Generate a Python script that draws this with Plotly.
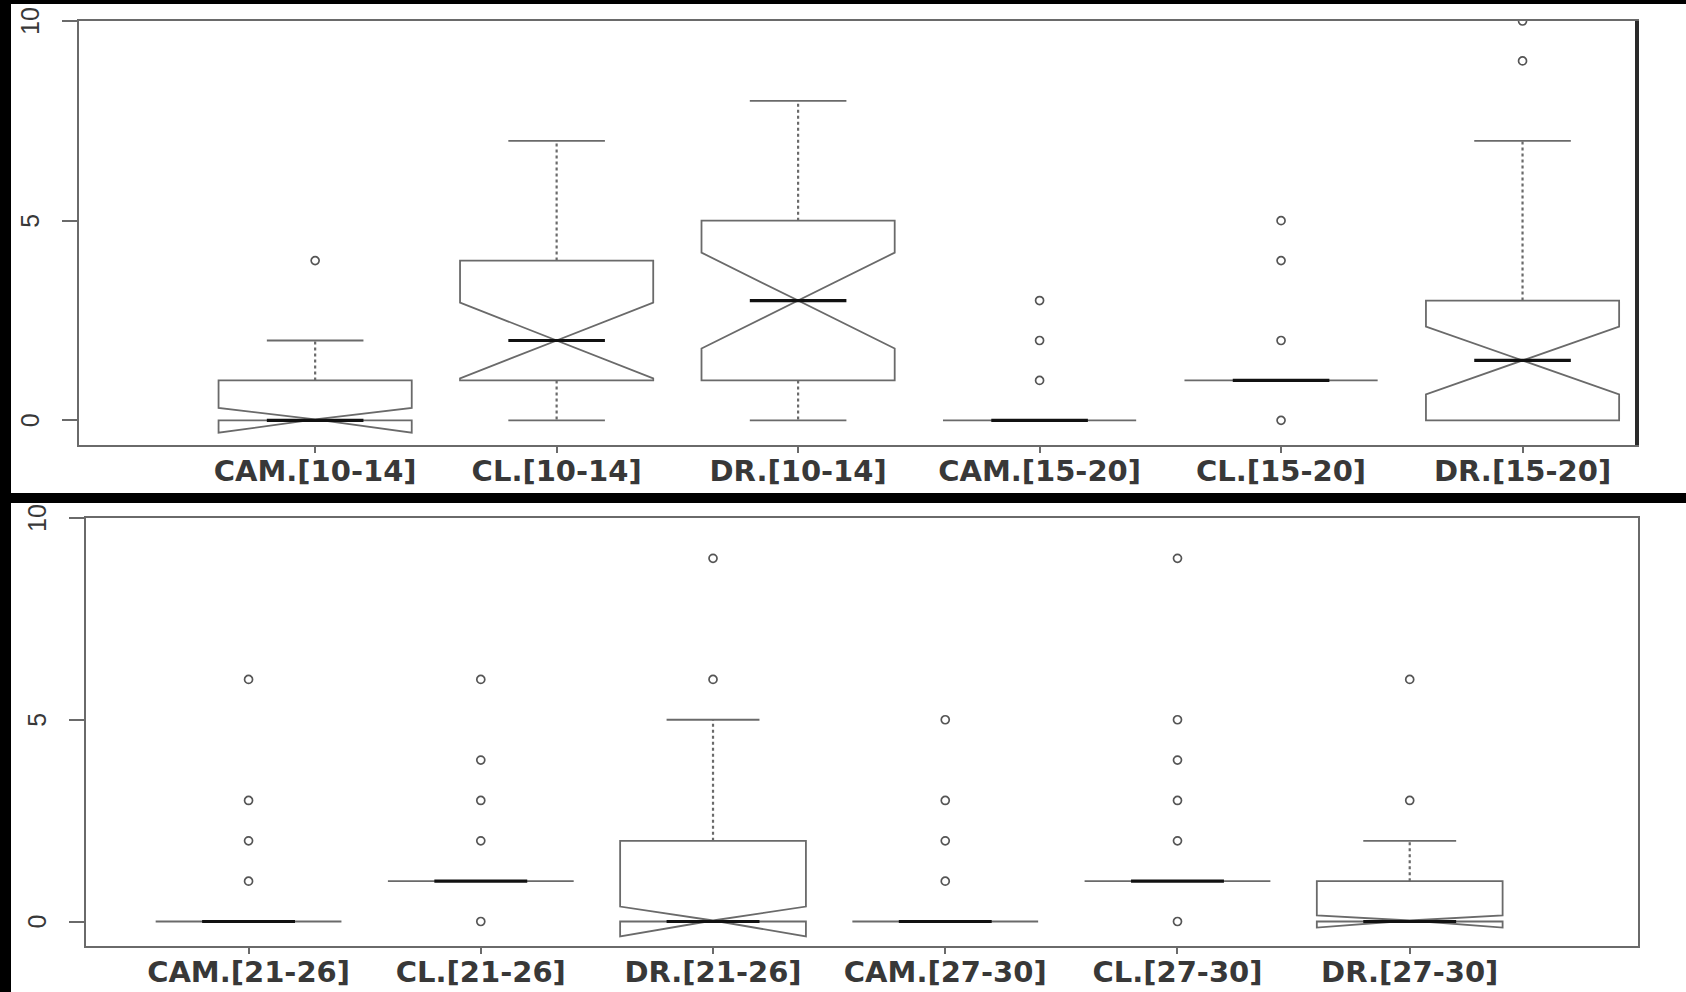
import plotly.graph_objects as go

# ---------------- data ----------------
top_labels = ["CAM.[10-14]", "CL.[10-14]", "DR.[10-14]", "CAM.[15-20]", "CL.[15-20]", "DR.[15-20]"]
top_q1 = [0, 1, 1, 0, 1, 0]
top_median = [0, 2, 3, 0, 1, 1.5]
top_q3 = [1, 4, 5, 0, 1, 3]
top_lower_whisker = [0, 0, 0, 0, 1, 0]
top_upper_whisker = [2, 7, 8, 0, 1, 7]
top_notch = [0.31, 0.95, 1.2, 0, 0, 0.85]
top_outliers = [[4], [], [], [1, 2, 3], [0, 2, 4, 5], [9, 10]]

bot_labels = ["CAM.[21-26]", "CL.[21-26]", "DR.[21-26]", "CAM.[27-30]", "CL.[27-30]", "DR.[27-30]"]
bot_q1 = [0, 1, 0, 0, 1, 0]
bot_median = [0, 1, 0, 0, 1, 0]
bot_q3 = [0, 1, 2, 0, 1, 1]
bot_lower_whisker = [0, 1, 0, 0, 1, 0]
bot_upper_whisker = [0, 1, 5, 0, 1, 2]
bot_notch = [0, 0, 0.37, 0, 0, 0.15]
bot_outliers = [[1, 2, 3, 6], [0, 2, 3, 4, 6], [6, 9], [1, 2, 3, 5], [0, 2, 3, 4, 5, 9], [3, 6]]

y_ticks = [0, 5, 10]

# ---------------- style ----------------
W, H = 1686, 992
BOX_W = 0.8
HALF_MED = BOX_W * 0.25
LINE_C = "#6a6a6a"
TXT_C = "#383838"

fig = go.Figure()


def add_panel(xa, ya, labels, q1, med, q3, lw, uw, notch, outs):
    pos = list(range(1, len(labels) + 1))
    fig.add_trace(go.Box(
        x=pos, q1=q1, median=med, q3=q3, lowerfence=q1, upperfence=q3,
        notchspan=notch, notched=True, notchwidth=0.5, width=BOX_W,
        whiskerwidth=0, fillcolor="rgba(0,0,0,0)",
        line=dict(color=LINE_C, width=1.8),
        xaxis=xa, yaxis=ya, showlegend=False, hoverinfo="skip",
    ))
    # whiskers (dashed)
    wx, wy = [], []
    sx, sy = [], []
    for p, a, b, lo, hi in zip(pos, q1, q3, lw, uw):
        if hi > b:
            wx += [p, p, None]; wy += [b, hi, None]
            sx += [p - HALF_MED, p + HALF_MED, None]; sy += [hi, hi, None]
        if lo < a:
            wx += [p, p, None]; wy += [a, lo, None]
            sx += [p - HALF_MED, p + HALF_MED, None]; sy += [lo, lo, None]
    fig.add_trace(go.Scatter(x=wx, y=wy, mode="lines", line=dict(color=LINE_C, width=2.2, dash="dot"),
                             xaxis=xa, yaxis=ya, showlegend=False, hoverinfo="skip"))
    fig.add_trace(go.Scatter(x=sx, y=sy, mode="lines", line=dict(color=LINE_C, width=1.8),
                             xaxis=xa, yaxis=ya, showlegend=False, hoverinfo="skip"))
    # medians (thick)
    mx, my = [], []
    for p, m in zip(pos, med):
        mx += [p - HALF_MED, p + HALF_MED, None]; my += [m, m, None]
    fig.add_trace(go.Scatter(x=mx, y=my, mode="lines", line=dict(color="#111111", width=3.2),
                             xaxis=xa, yaxis=ya, showlegend=False, hoverinfo="skip"))
    # outliers
    ox, oy = [], []
    for p, vals in zip(pos, outs):
        for v in vals:
            ox.append(p); oy.append(v)
    fig.add_trace(go.Scatter(x=ox, y=oy, mode="markers",
                             marker=dict(symbol="circle-open", size=8, color="#555555", line=dict(width=1.7)),
                             xaxis=xa, yaxis=ya, showlegend=False, hoverinfo="skip"))


add_panel("x", "y", top_labels, top_q1, top_median, top_q3, top_lower_whisker,
          top_upper_whisker, top_notch, top_outliers)
add_panel("x2", "y2", bot_labels, bot_q1, bot_median, bot_q3, bot_lower_whisker,
          bot_upper_whisker, bot_notch, bot_outliers)


def xaxis_cfg(labels, rng, dom, anchor):
    return dict(domain=dom, range=rng, anchor=anchor, tickmode="array", automargin=False,
                tickvals=list(range(1, len(labels) + 1)), ticktext=labels,
                showline=True, mirror=True, linecolor=LINE_C, linewidth=2,
                ticks="outside", ticklen=6, tickcolor=LINE_C, tickwidth=1.5,
                ticklabelstandoff=-7, ticklabeloverflow="allow",
                tickfont=dict(family="DejaVu Sans", size=29, color=TXT_C, weight="bold"),
                showgrid=False, zeroline=False, fixedrange=True)


def yaxis_cfg(rng, dom, anchor):
    return dict(domain=dom, range=rng, anchor=anchor, tickmode="array", automargin=False,
                tickvals=y_ticks, showticklabels=False,
                showline=True, mirror=True, linecolor=LINE_C, linewidth=2,
                ticks="outside", ticklen=15, tickcolor=LINE_C, tickwidth=1.5,
                showgrid=False, zeroline=False, fixedrange=True)


# rotated y-axis labels (R style: reading bottom-to-top)
annotations = []
for yref, xc in (("y", 30), ("y2", 37)):
    for v in y_ticks:
        annotations.append(dict(
            x=xc / W, xref="paper", y=v, yref=yref, text=str(v), textangle=-90,
            showarrow=False, xanchor="center", yanchor="middle",
            font=dict(family="Liberation Sans", size=25, color=TXT_C),
        ))

fig.update_layout(
    width=W, height=H, autosize=False,
    margin=dict(l=0, r=0, t=0, b=0, pad=0),
    paper_bgcolor="black", plot_bgcolor="white",
    xaxis=xaxis_cfg(top_labels, [0.02, 6.474], [78.5 / W, 1637 / W], "y"),
    yaxis=yaxis_cfg([-0.617, 10.0], [1 - 445 / H, 1 - 21 / H], "x"),
    xaxis2=xaxis_cfg(bot_labels, [0.30, 6.983], [86 / W, 1638 / W], "y2"),
    yaxis2=yaxis_cfg([-0.607, 10.0], [1 - 946 / H, 1 - 518 / H], "x2"),
    annotations=annotations,
    shapes=[
        dict(type="rect", xref="paper", yref="paper", x0=11 / W, x1=1, y0=1 - 493 / H, y1=1 - 4 / H,
             fillcolor="white", line=dict(width=0), layer="below"),
        dict(type="rect", xref="paper", yref="paper", x0=11 / W, x1=1, y0=0, y1=1 - 503 / H,
             fillcolor="white", line=dict(width=0), layer="below"),
        dict(type="line", xref="x domain", yref="y domain", x0=1, x1=1, y0=0, y1=1,
             line=dict(color="#2a2a2a", width=4)),
    ],
)

fig.write_html("out.html", config={"displayModeBar": False},
               post_script="document.body.style.margin='0';document.body.style.overflow='hidden';")
